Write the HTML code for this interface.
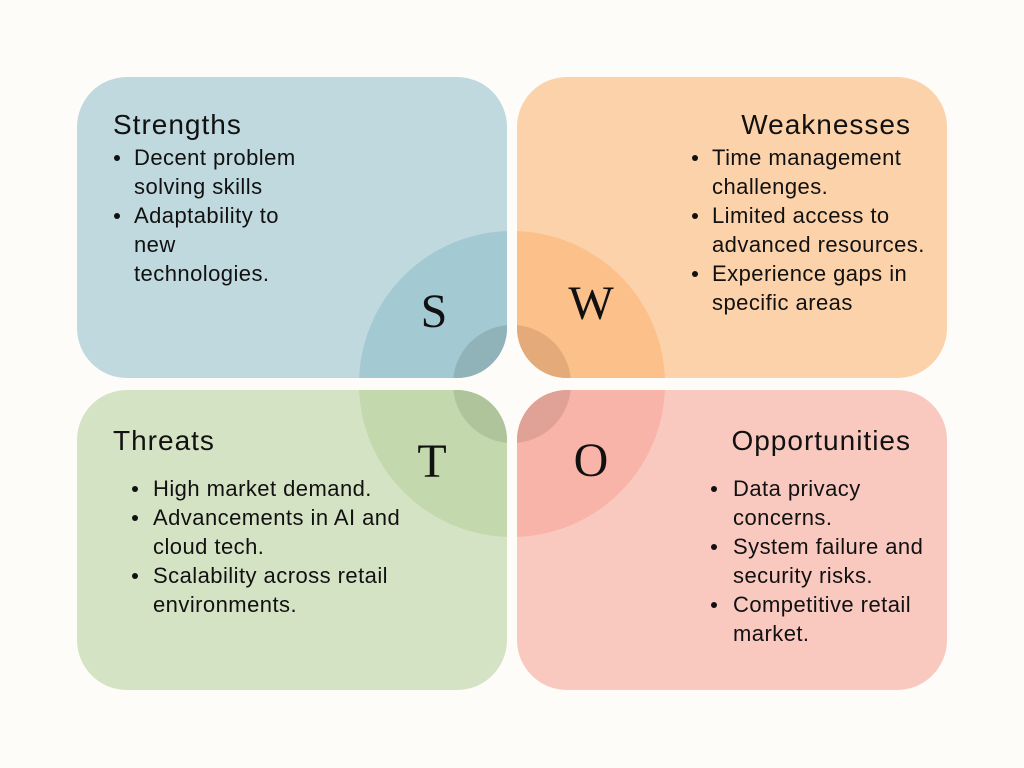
<!DOCTYPE html>
<html><head><meta charset="utf-8"><style>
html,body{margin:0;padding:0;background:#fdfcf8;}
#c{position:relative;width:1024px;height:768px;overflow:hidden;background:#fdfcf8;font-family:"Liberation Sans",sans-serif;color:#111;}
svg{position:absolute;left:0;top:0;}
.t{position:absolute;font-size:22px;letter-spacing:0.45px;line-height:29px;white-space:nowrap;}
.h{position:absolute;font-size:28px;letter-spacing:1px;line-height:32px;white-space:nowrap;color:#111;}
.b{position:absolute;width:6px;height:6px;border-radius:50%;background:#111;}
.L{position:absolute;font-family:"Liberation Serif",serif;font-size:48px;line-height:48px;width:60px;text-align:center;color:#111;}
</style></head><body><div id="c">
<svg width="1024" height="768">
<defs>
<clipPath id="tl"><rect x="77" y="77" width="430" height="301" rx="50"/></clipPath>
<clipPath id="tr"><rect x="517" y="77" width="430" height="301" rx="50"/></clipPath>
<clipPath id="bl"><rect x="77" y="390" width="430" height="300" rx="50"/></clipPath>
<clipPath id="br"><rect x="517" y="390" width="430" height="300" rx="50"/></clipPath>
</defs>
<g clip-path="url(#tl)"><rect x="77" y="77" width="430" height="301" fill="#bfd9de"/><circle cx="512" cy="384" r="153" fill="#a3cad2"/><circle cx="512" cy="384" r="59" fill="#8fb3b9"/></g>
<g clip-path="url(#tr)"><rect x="517" y="77" width="430" height="301" fill="#fcd2aa"/><circle cx="512" cy="384" r="153" fill="#fcc08a"/><circle cx="512" cy="384" r="59" fill="#e4aa7a"/></g>
<g clip-path="url(#bl)"><rect x="77" y="390" width="430" height="300" fill="#d5e3c5"/><circle cx="512" cy="384" r="153" fill="#c3d8ac"/><circle cx="512" cy="384" r="59" fill="#afc49a"/></g>
<g clip-path="url(#br)"><rect x="517" y="390" width="430" height="300" fill="#f9c9c0"/><circle cx="512" cy="384" r="153" fill="#f8b4a8"/><circle cx="512" cy="384" r="59" fill="#e0a197"/></g>
</svg>

<div class="L" style="left:404px;top:288px;">S</div>
<div class="L" style="left:561px;top:280px;">W</div>
<div class="L" style="left:402px;top:438px;">T</div>
<div class="L" style="left:561px;top:437px;">O</div>

<div class="h" style="left:113px;top:109px;">Strengths</div>
<div class="b" style="left:114px;top:155px;"></div>
<div class="t" style="left:134px;top:143px;">Decent problem</div>
<div class="t" style="left:134px;top:172px;">solving skills</div>
<div class="b" style="left:114px;top:213px;"></div>
<div class="t" style="left:134px;top:201px;">Adaptability to</div>
<div class="t" style="left:134px;top:230px;">new</div>
<div class="t" style="left:134px;top:259px;">technologies.</div>

<div class="h" style="right:113px;top:109px;">Weaknesses</div>
<div class="b" style="left:692px;top:155px;"></div>
<div class="t" style="left:712px;top:143px;">Time management</div>
<div class="t" style="left:712px;top:172px;">challenges.</div>
<div class="b" style="left:692px;top:213px;"></div>
<div class="t" style="left:712px;top:201px;">Limited access to</div>
<div class="t" style="left:712px;top:230px;">advanced resources.</div>
<div class="b" style="left:692px;top:271px;"></div>
<div class="t" style="left:712px;top:259px;">Experience gaps in</div>
<div class="t" style="left:712px;top:288px;">specific areas</div>

<div class="h" style="left:113px;top:425px;">Threats</div>
<div class="b" style="left:132px;top:486px;"></div>
<div class="t" style="left:153px;top:474px;">High market demand.</div>
<div class="b" style="left:132px;top:515px;"></div>
<div class="t" style="left:153px;top:503px;">Advancements in AI and</div>
<div class="t" style="left:153px;top:532px;">cloud tech.</div>
<div class="b" style="left:132px;top:573px;"></div>
<div class="t" style="left:153px;top:561px;">Scalability across retail</div>
<div class="t" style="left:153px;top:590px;">environments.</div>

<div class="h" style="right:113px;top:425px;">Opportunities</div>
<div class="b" style="left:711px;top:486px;"></div>
<div class="t" style="left:733px;top:474px;">Data privacy</div>
<div class="t" style="left:733px;top:503px;">concerns.</div>
<div class="b" style="left:711px;top:544px;"></div>
<div class="t" style="left:733px;top:532px;">System failure and</div>
<div class="t" style="left:733px;top:561px;">security risks.</div>
<div class="b" style="left:711px;top:602px;"></div>
<div class="t" style="left:733px;top:590px;">Competitive retail</div>
<div class="t" style="left:733px;top:619px;">market.</div>
</div></body></html>
